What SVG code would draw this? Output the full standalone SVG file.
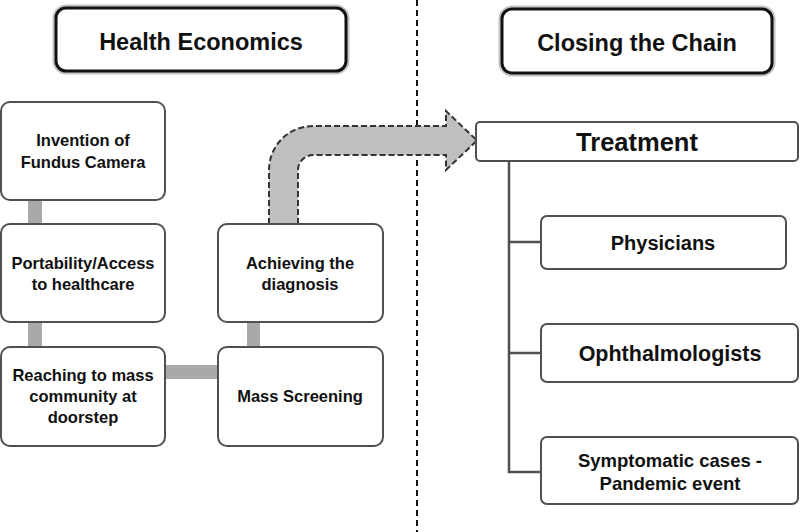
<svg xmlns="http://www.w3.org/2000/svg" width="800" height="532" viewBox="0 0 800 532">
<style>
text{font-family:"Liberation Sans",Arial,sans-serif;font-weight:bold;fill:#111;text-anchor:middle}
.t{font-size:16.5px}
.h{font-size:23.5px}
.r{font-size:18.5px}
.node{fill:#fff;stroke:#505050;stroke-width:2}
.halo{fill:none;stroke:#c4c4c4;stroke-width:7}
.hbox{fill:#fff;stroke:#111;stroke-width:3}
.bar{fill:#a9a9a9}
.tree{fill:none;stroke:#505050;stroke-width:2.5}
</style>
<rect width="800" height="532" fill="#fff"/>
<line x1="417" y1="0" x2="417" y2="532" stroke="#111" stroke-width="2" stroke-dasharray="6 4"/>
<g id="connectors">
<rect class="bar" x="28" y="199" width="14" height="26"/>
<rect class="bar" x="28" y="321" width="14" height="27"/>
<rect class="bar" x="165" y="365" width="54" height="14"/>
<rect class="bar" x="247" y="321" width="13" height="27"/>
<path d="M269,224 L269,170 A44,44 0 0 1 313,126 L446,126 L446,111 L477,140.5 L446,170 L446,155 L313,155 A15,15 0 0 0 298,170 L298,224 Z" fill="#bfbfbf" stroke="#333" stroke-width="2" stroke-dasharray="6 3"/>
<path class="tree" d="M509,161 L509,472 L541,472 M509,242 L541,242 M509,353 L541,353"/>
</g>
<g id="health-economics">
<rect class="halo" x="56" y="8" width="290" height="63" rx="10"/>
<rect class="hbox" x="56" y="8" width="290" height="63" rx="10"/>
<text class="h" x="201" y="50">Health Economics</text>
</g>
<g id="closing-the-chain">
<rect class="halo" x="502" y="9" width="270" height="64" rx="10"/>
<rect class="hbox" x="502" y="9" width="270" height="64" rx="10"/>
<text class="h" x="637" y="51">Closing the Chain</text>
</g>
<g id="invention">
<rect class="node" x="1" y="102" width="164" height="98" rx="9"/>
<text class="t" x="83" y="146">Invention of</text>
<text class="t" x="83" y="168">Fundus Camera</text>
</g>
<g id="portability">
<rect class="node" x="1" y="224" width="164" height="98" rx="9"/>
<text class="t" x="83" y="269">Portability/Access</text>
<text class="t" x="83" y="290">to healthcare</text>
</g>
<g id="reaching">
<rect class="node" x="1" y="347" width="164" height="99" rx="9"/>
<text class="t" x="83" y="381">Reaching to mass</text>
<text class="t" x="83" y="402">community at</text>
<text class="t" x="83" y="423">doorstep</text>
</g>
<g id="mass-screening">
<rect class="node" x="218" y="347" width="165" height="99" rx="9"/>
<text class="t" x="300" y="402">Mass Screening</text>
</g>
<g id="achieving">
<rect class="node" x="218" y="224" width="165" height="98" rx="9"/>
<text class="t" x="300" y="269">Achieving the</text>
<text class="t" x="300" y="290">diagnosis</text>
</g>
<g id="treatment">
<rect class="node" x="476" y="122" width="322" height="39" rx="4"/>
<text x="637" y="151" style="font-size:25.5px">Treatment</text>
</g>
<g id="physicians">
<rect class="node" x="541" y="216" width="245" height="53" rx="6"/>
<text x="663" y="250" style="font-size:20px">Physicians</text>
</g>
<g id="ophthalmologists">
<rect class="node" x="541" y="324" width="257" height="58" rx="6"/>
<text x="670" y="361" style="font-size:21.5px">Ophthalmologists</text>
</g>
<g id="symptomatic">
<rect class="node" x="541" y="437" width="257" height="67" rx="6"/>
<text class="r" x="670" y="467">Symptomatic cases -</text>
<text class="r" x="670" y="490">Pandemic event</text>
</g>
</svg>
